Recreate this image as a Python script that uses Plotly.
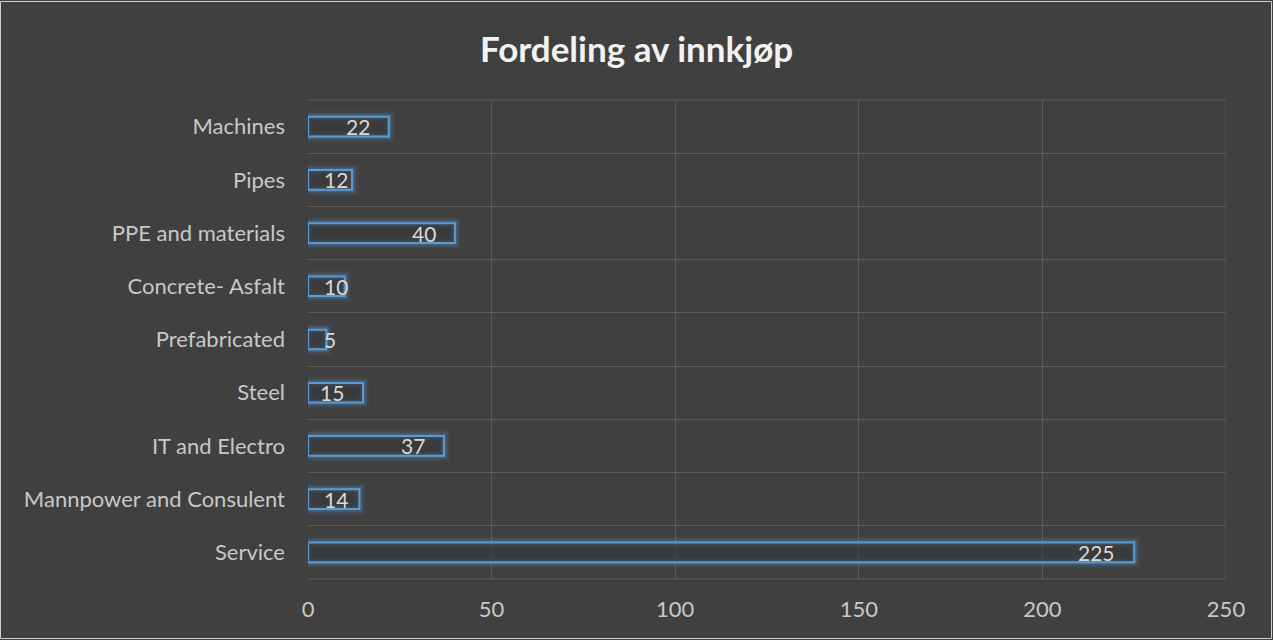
import plotly.graph_objects as go

categories = ["Service", "Mannpower and Consulent", "IT and Electro", "Steel",
              "Prefabricated", "Concrete- Asfalt", "PPE and materials", "Pipes", "Machines"]
values = [225, 14, 37, 15, 5, 10, 40, 12, 22]
x_ticks = [0, 50, 100, 150, 200, 250]

W, H = 1273, 640
ml, mr, mt, mb = 308, 47, 100, 61
pw, ph = W - ml - mr, H - mt - mb
FONT = "Lato, Open Sans, sans-serif"
XMAX = 250
px_per_unit = pw / XMAX
LABEL_SIZE = 21
digit_w = 11.5

fig = go.Figure()
# soft glow layers
for w, a in [(12, 0.07), (8, 0.12), (5, 0.2)]:
    fig.add_trace(go.Bar(
        y=categories, x=values, orientation="h", width=0.37,
        marker=dict(color="rgba(0,0,0,0)", line=dict(color=f"rgba(91,155,213,{a})", width=w)),
        hoverinfo="skip", showlegend=False))
# main outlined bars
fig.add_trace(go.Bar(
    y=categories, x=values, orientation="h", width=0.37,
    marker=dict(color="rgba(52,52,52,0.55)", line=dict(color="#5B9BD5", width=2)),
    showlegend=False))

# value labels (inside end, clamped to bar start like Excel)
annotations = []
for c, v in zip(categories, values):
    tw = digit_w * len(str(v))
    if v * px_per_unit - 17 - tw >= 15:
        annotations.append(dict(x=v, y=c, xref="x", yref="y", text=str(v), showarrow=False,
                                xanchor="right", xshift=-17,
                                font=dict(family=FONT, size=LABEL_SIZE, color="#d9d9d9")))
    else:
        annotations.append(dict(x=0, y=c, xref="x", yref="y", text=str(v), showarrow=False,
                                xanchor="left", xshift=14,
                                font=dict(family=FONT, size=LABEL_SIZE, color="#d9d9d9")))

fig.update_layout(
    width=W, height=H, barmode="overlay",
    paper_bgcolor="#404040", plot_bgcolor="#404040",
    margin=dict(l=ml, r=mr, t=mt, b=mb),
    title=dict(text="<b>Fordeling av innkjøp</b>", x=0.5, xref="container", xanchor="center",
               y=1 - 50 / H, yanchor="middle",
               font=dict(family=FONT, size=35, color="#f2f2f2")),
    xaxis=dict(range=[0, XMAX], tickvals=x_ticks, showgrid=True, gridcolor="#5a5a5a",
               gridwidth=1, zeroline=False, showline=False, ticks="",
               tickfont=dict(family=FONT, size=22, color="#c8c8c8"),
               ticklabelstandoff=15),
    yaxis=dict(type="category", categoryorder="array", categoryarray=categories,
               tickson="boundaries", showgrid=True, gridcolor="#5a5a5a", gridwidth=1,
               showline=False, ticks="", zeroline=False, range=[-0.5, 8.5],
               tickfont=dict(family=FONT, size=22, color="#c8c8c8"),
               ticklabelstandoff=22),
    annotations=annotations,
    shapes=[
        dict(type="rect", xref="paper", yref="paper", layer="above",
             x0=(-ml + 0.5) / pw, x1=(pw + mr - 1.5) / pw,
             y0=(-mb + 1.5) / ph, y1=(ph + mt - 1.5) / ph,
             line=dict(color="#d0d0d0", width=1)),
        dict(type="line", xref="x", yref="paper", x0=XMAX, x1=XMAX, y0=0, y1=1,
             line=dict(color="#5a5a5a", width=1), layer="below"),
        dict(type="line", xref="paper", yref="paper", x0=0, x1=1, y0=0, y1=0,
             line=dict(color="#5a5a5a", width=1), layer="below"),
        dict(type="line", xref="paper", yref="paper", x0=0, x1=1, y0=1, y1=1,
             line=dict(color="#5a5a5a", width=1), layer="below"),
    ],
)

fig.write_html("out.html", config={"displayModeBar": False},
               post_script="document.body.style.margin='0';")
